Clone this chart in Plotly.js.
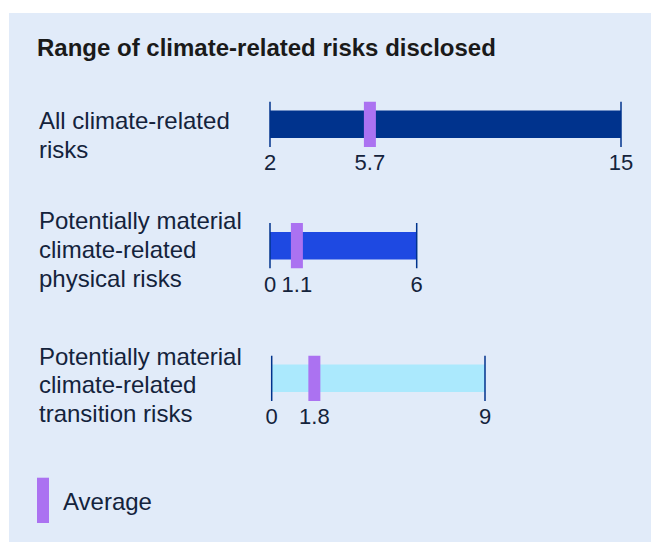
<!DOCTYPE html>
<html>
<head>
<meta charset="utf-8">
<script src="https://cdn.plot.ly/plotly-3.0.1.min.js"></script>
<style>
  html, body { margin: 0; padding: 0; background: #ffffff; }
  #chart { width: 651px; height: 542px; }
</style>
</head>
<body>
<div id="chart"></div>
<script>
// ---------------- data ----------------
const categories = [
  "All climate-related risks",
  "Potentially material climate-related physical risks",
  "Potentially material climate-related transition risks"
];
const categoryLines = [
  ["All climate-related", "risks"],
  ["Potentially material", "climate-related", "physical risks"],
  ["Potentially material", "climate-related", "transition risks"]
];
const minValues = [2, 0, 0];
const maxValues = [15, 6, 9];
const avgValues = [5.7, 1.1, 1.8];
const barColors = ["#00338d", "#1e49e2", "#abe9fd"];
const chartTitle = "Range of climate-related risks disclosed";
const legendLabel = "Average";

// ---------------- layout geometry (pixels) ----------------
const W = 651, H = 542;
const FONT = "Liberation Sans, Arial, sans-serif";
const TEXT = "#14233c";
const AVG_COLOR = "#ab72f1";
const TICK_COLOR = "#00338d";
const rowGeom = [
  { top: 101.5, bottom: 147, x0: 270, x1: 621, labelY: 121 },
  { top: 223, bottom: 268.5, x0: 270, x1: 416.7, labelY: 221 },
  { top: 355.5, bottom: 401, x0: 271.7, x1: 485, labelY: 356 }
];
const LINE_GAP = 28.8;
const px = p => p / W;
const py = p => 1 - p / H;

const traces = [];
const shapes = [];
const annotations = [];
const layout = {
  width: W, height: H,
  margin: { l: 0, r: 0, t: 0, b: 0, pad: 0 },
  paper_bgcolor: "#ffffff",
  plot_bgcolor: "rgba(0,0,0,0)",
  showlegend: false,
  font: { family: FONT, color: TEXT },
  title: {
    text: "<b>" + chartTitle + "</b>",
    x: px(37), xanchor: "left", xref: "paper",
    y: py(48), yanchor: "middle", yref: "paper",
    font: { family: FONT, size: 24, color: "#1a1a1a" }
  }
};

// panel background
shapes.push({
  type: "rect", xref: "paper", yref: "paper", layer: "below",
  x0: px(9), x1: 1, y0: 0, y1: py(13),
  fillcolor: "#e1ebf9", line: { width: 0 }
});

categories.forEach((cat, i) => {
  const g = rowGeom[i];
  const n = i === 0 ? "" : String(i + 1);
  const xa = "x" + n, ya = "y" + n;
  const ppu = (g.x1 - g.x0) / (maxValues[i] - minValues[i]);
  const r0 = minValues[i] - g.x0 / ppu;
  const r1 = r0 + W / ppu;

  layout["xaxis" + n] = {
    domain: [0, 1], range: [r0, r1], anchor: ya,
    showgrid: false, zeroline: false, showline: false, ticks: "",
    tickmode: "array",
    tickvals: [minValues[i], avgValues[i], maxValues[i]],
    ticktext: [String(minValues[i]), String(avgValues[i]), String(maxValues[i])],
    tickfont: { family: FONT, size: 22, color: TEXT },
    fixedrange: true
  };
  layout["yaxis" + n] = {
    domain: [py(g.bottom), py(g.top)], range: [-1, 1], anchor: xa,
    visible: false, fixedrange: true
  };

  // range bar
  traces.push({
    type: "bar", orientation: "h", name: cat,
    y: [0], base: [minValues[i]], x: [maxValues[i] - minValues[i]],
    width: 1.2, marker: { color: barColors[i], line: { width: 0 } },
    xaxis: xa, yaxis: ya, hoverinfo: "skip"
  });
  // end ticks
  traces.push({
    type: "scatter", mode: "lines",
    x: [minValues[i], minValues[i], null, maxValues[i], maxValues[i]],
    y: [-1, 1, null, -1, 1],
    line: { color: TICK_COLOR, width: 1.5 },
    cliponaxis: false, xaxis: xa, yaxis: ya, hoverinfo: "skip"
  });
  // average marker
  shapes.push({
    type: "rect", xref: xa, yref: ya, layer: "above",
    xsizemode: "pixel", xanchor: avgValues[i], x0: -6, x1: 6,
    y0: -1, y1: 1, fillcolor: AVG_COLOR, line: { width: 0 }
  });
  // category labels
  categoryLines[i].forEach((line, k) => {
    annotations.push({
      xref: "paper", yref: "paper", x: px(37), y: py(g.labelY + k * LINE_GAP),
      xanchor: "left", yanchor: "middle", showarrow: false,
      text: line, font: { family: FONT, size: 24, color: TEXT }
    });
  });
});

// legend
shapes.push({
  type: "rect", xref: "paper", yref: "paper",
  x0: px(37), x1: px(49), y0: py(523), y1: py(477.7),
  fillcolor: AVG_COLOR, line: { width: 0 }
});
annotations.push({
  xref: "paper", yref: "paper", x: px(61), y: py(501),
  xanchor: "left", yanchor: "middle", showarrow: false,
  text: legendLabel, font: { family: FONT, size: 24, color: TEXT }
});

layout.shapes = shapes;
layout.annotations = annotations;

Plotly.newPlot("chart", traces, layout, { displayModeBar: false, staticPlot: true });
</script>
</body>
</html>
